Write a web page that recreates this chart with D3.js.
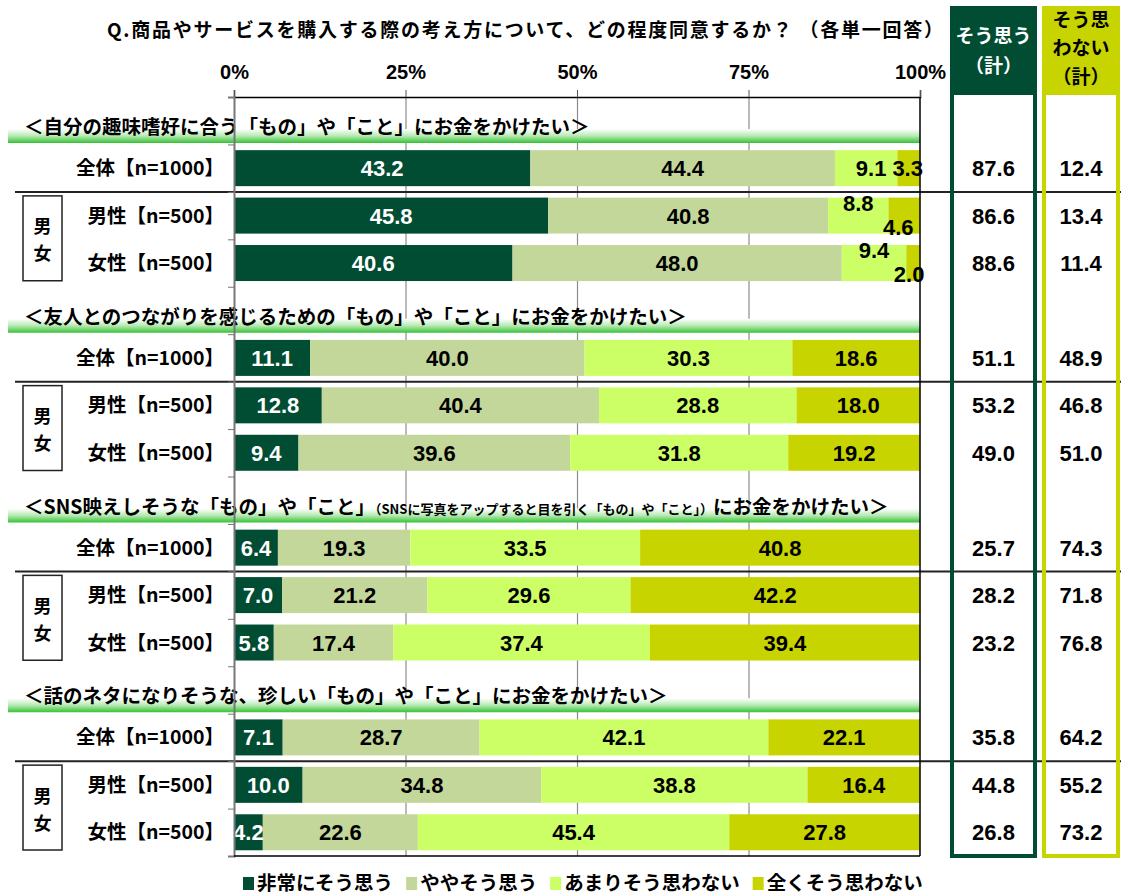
<!DOCTYPE html>
<html>
<head>
<meta charset="utf-8">
<script src="https://cdn.jsdelivr.net/npm/d3@7"></script>
<style>
  body { margin: 0; background: #fff; }
  text { font-family: "Noto Sans CJK JP", sans-serif; }
  .num { font-family: "Liberation Sans", Arial, sans-serif; font-weight: bold; }
</style>
</head>
<body>
<div id="chart"></div>
<script>
const title = "Q.商品やサービスを購入する際の考え方について、どの程度同意するか？ （各単一回答）";
const sections = [
  "＜自分の趣味嗜好に合う「もの」や「こと」にお金をかけたい＞",
  "＜友人とのつながりを感じるための「もの」や「こと」にお金をかけたい＞",
  "＜SNS映えしそうな「もの」や「こと」|（SNSに写真をアップすると目を引く「もの」や「こと」）|にお金をかけたい＞",
  "＜話のネタになりそうな、珍しい「もの」や「こと」にお金をかけたい＞"
];
const groups = ["全体【n=1000】", "男性【n=500】", "女性【n=500】"];
const seriesNames = ["非常にそう思う", "ややそう思う", "あまりそう思わない", "全くそう思わない"];
const ticks = [0, 25, 50, 75, 100];

// one value per row: 4 sections x (全体, 男性, 女性)
const veryAgree     = [43.2, 45.8, 40.6, 11.1, 12.8, 9.4, 6.4, 7.0, 5.8, 7.1, 10.0, 4.2];
const somewhatAgree = [44.4, 40.8, 48.0, 40.0, 40.4, 39.6, 19.3, 21.2, 17.4, 28.7, 34.8, 22.6];
const notMuch       = [9.1, 8.8, 9.4, 30.3, 28.8, 31.8, 33.5, 29.6, 37.4, 42.1, 38.8, 45.4];
const notAtAll      = [3.3, 4.6, 2.0, 18.6, 18.0, 19.2, 40.8, 42.2, 39.4, 22.1, 16.4, 27.8];
const agreeTotal    = [87.6, 86.6, 88.6, 51.1, 53.2, 49.0, 25.7, 28.2, 23.2, 35.8, 44.8, 26.8];
const disagreeTotal = [12.4, 13.4, 11.4, 48.9, 46.8, 51.0, 74.3, 71.8, 76.8, 64.2, 55.2, 73.2];

const colors = ["#004d33", "#c4d79b", "#ccff66", "#c8d400"];
const textColors = ["#fff", "#000", "#000", "#000"];

// hand placed labels in the crowded rows (row-series : dx, dy)
const nudges = { "0-2": [5, 0], "0-3": [-1, 0], "1-2": [0, -13], "1-3": [-6, 11], "2-2": [0, -13], "2-3": [-4, 11] };

const width = 1121, height = 895;
const svg = d3.select("#chart").append("svg")
  .attr("width", width).attr("height", height);

const x = d3.scaleLinear().domain([0, 100]).range([234, 920]);
const slots = d3.scaleLinear().domain([0, 16]).range([97, 856]);
const slotH = slots(1) - slots(0);
const barH = 36;

const rows = veryAgree.map((v, i) => {
  const vals = [v, somewhatAgree[i], notMuch[i], notAtAll[i]];
  let acc = 0;
  const segs = vals.map((d, k) => {
    const s = { row: i, k: k, value: d, x0: acc, x1: acc + d };
    acc += d;
    return s;
  });
  const sec = Math.floor(i / 3);
  return { i, sec, g: i % 3, slot: sec * 4 + 1 + (i % 3), segs };
});
const rowY = r => slots(r.slot) + slotH / 2;

// defs
const defs = svg.append("defs");
const grad = defs.append("linearGradient").attr("id", "band")
  .attr("x1", 0).attr("y1", 0).attr("x2", 0).attr("y2", 1);
grad.append("stop").attr("offset", "0%").attr("stop-color", "#ffffff");
grad.append("stop").attr("offset", "50%").attr("stop-color", "#b6eab2");
grad.append("stop").attr("offset", "100%").attr("stop-color", "#36c236");

// title
svg.append("text")
  .attr("x", 525).attr("y", 37)
  .attr("text-anchor", "middle")
  .attr("font-size", 19).attr("font-weight", "bold")
  .attr("textLength", 836).attr("lengthAdjust", "spacing")
  .text(title);

// gridlines
svg.append("g")
  .attr("transform", `translate(0,${slots(0)})`)
  .call(d3.axisBottom(x).tickValues([25, 50, 75]).tickSize(slots(16) - slots(0)).tickFormat(""))
  .call(g => g.select(".domain").remove())
  .call(g => g.selectAll("line").attr("stroke", "#8c8c8c").attr("stroke-width", 1.2));

// section headers
sections.forEach((s, si) => {
  const top = slots(si * 4);
  svg.append("rect")
    .attr("x", 8).attr("y", top + 32)
    .attr("width", x(100) - 8).attr("height", 14)
    .attr("fill", "url(#band)");
  const t = svg.append("text")
    .attr("x", 24).attr("y", top + 37)
    .attr("font-weight", "bold");
  s.split("|").forEach((part, pi) => {
    t.append("tspan")
      .attr("font-size", pi === 1 ? 13 : 19.5)
      .text(part);
  });
});

// bars
const rowG = svg.selectAll("g.row").data(rows).join("g").attr("class", "row");
rowG.selectAll("rect").data(d => d.segs).join("rect")
  .attr("x", d => x(d.x0))
  .attr("y", d => rowY(rows[d.row]) - barH / 2)
  .attr("width", d => x(d.x1) - x(d.x0))
  .attr("height", barH)
  .attr("fill", d => colors[d.k]);

rowG.selectAll("text.val").data(d => d.segs).join("text")
  .attr("class", "val num")
  .attr("x", d => (x(d.x0) + x(d.x1)) / 2 + (nudges[d.row + "-" + d.k] || [0, 0])[0])
  .attr("y", d => rowY(rows[d.row]) + 8 + (nudges[d.row + "-" + d.k] || [0, 0])[1])
  .attr("text-anchor", "middle")
  .attr("font-size", 22)
  .attr("fill", d => textColors[d.k])
  .text(d => d.value.toFixed(1));

// row labels
svg.selectAll("text.grp").data(rows).join("text")
  .attr("class", "grp")
  .attr("x", 224).attr("y", d => rowY(d) + 7)
  .attr("text-anchor", "end")
  .attr("font-size", 19.5).attr("font-weight", "bold")
  .text(d => groups[d.g]);

// 男女 boxes and separators
d3.range(4).forEach(si => {
  const yTop = slots(si * 4 + 2);
  svg.append("line")
    .attr("x1", 15).attr("x2", width)
    .attr("y1", yTop).attr("y2", yTop)
    .attr("stroke", "#222").attr("stroke-width", 2);
  svg.append("rect")
    .attr("x", 23).attr("y", yTop + 4)
    .attr("width", 39).attr("height", slots(si * 4 + 4) - yTop - 10)
    .attr("fill", "#fff").attr("stroke", "#222").attr("stroke-width", 1.5);
  const mid = (yTop + slots(si * 4 + 4)) / 2;
  svg.append("text").attr("x", 42.5).attr("y", mid - 6)
    .attr("text-anchor", "middle").attr("font-size", 18).attr("font-weight", "bold").text("男");
  svg.append("text").attr("x", 42.5).attr("y", mid + 21)
    .attr("text-anchor", "middle").attr("font-size", 18).attr("font-weight", "bold").text("女");
});

// axes
svg.append("g")
  .attr("transform", `translate(0,${slots(0)})`)
  .call(d3.axisTop(x).tickValues(ticks).tickSize(7).tickPadding(11).tickFormat(d => d + "%"))
  .call(g => g.select(".domain").attr("stroke", "#000").attr("stroke-width", 1.5))
  .call(g => g.selectAll(".tick line").attr("stroke", "#555"))
  .call(g => g.selectAll("text").attr("class", "num").attr("font-size", 20).attr("fill", "#000"));

svg.append("g")
  .attr("transform", `translate(${x(0)},0)`)
  .call(d3.axisLeft(slots).tickValues(d3.range(17)).tickSize(6).tickFormat(""))
  .call(g => g.select(".domain").attr("stroke", "#777").attr("stroke-width", 2))
  .call(g => g.selectAll(".tick line").attr("stroke", "#777"));

svg.append("line")
  .attr("x1", x(100)).attr("x2", x(100)).attr("y1", slots(0)).attr("y2", slots(16))
  .attr("stroke", "#000").attr("stroke-width", 1.5);
svg.append("line")
  .attr("x1", x(0)).attr("x2", x(100)).attr("y1", slots(16)).attr("y2", slots(16))
  .attr("stroke", "#000").attr("stroke-width", 1.5);

// total columns
const totals = [
  { x: 952, w: 83, color: "#004d33", ink: "#fff", head: [["そう思う", 43], ["（計）", 73]], vals: agreeTotal },
  { x: 1044, w: 74, color: "#c8d400", ink: "#000", head: [["そう思", 27], ["わない", 55], ["（計）", 84]], vals: disagreeTotal }
];
totals.forEach(c => {
  svg.append("rect")
    .attr("x", c.x).attr("y", 8).attr("width", c.w).attr("height", 87)
    .attr("fill", c.color);
  svg.append("rect")
    .attr("x", c.x).attr("y", 8).attr("width", c.w).attr("height", slots(16) - 8)
    .attr("fill", "none").attr("stroke", c.color).attr("stroke-width", 4);
  c.head.forEach(([t, y]) => {
    svg.append("text").attr("x", c.x + c.w / 2).attr("y", y)
      .attr("text-anchor", "middle").attr("font-size", 19).attr("font-weight", "bold")
      .attr("fill", c.ink).text(t);
  });
  svg.selectAll(null).data(rows).join("text")
    .attr("class", "num")
    .attr("x", c.x + c.w / 2).attr("y", d => rowY(d) + 8)
    .attr("text-anchor", "middle").attr("font-size", 22)
    .text(d => c.vals[d.i].toFixed(1));
});

// legend
const legend = svg.append("g").attr("transform", "translate(243,883)");
let lx = 0;
seriesNames.forEach((name, k) => {
  const item = legend.append("g").attr("transform", `translate(${lx},0)`);
  item.append("rect").attr("x", 0).attr("y", -6).attr("width", 11).attr("height", 13).attr("fill", colors[k]);
  const t = item.append("text").attr("x", 14).attr("y", 7)
    .attr("font-size", 19.5).attr("font-weight", "bold").text(name);
  lx += 14 + t.node().getComputedTextLength() + 13;
});
</script>
</body>
</html>
